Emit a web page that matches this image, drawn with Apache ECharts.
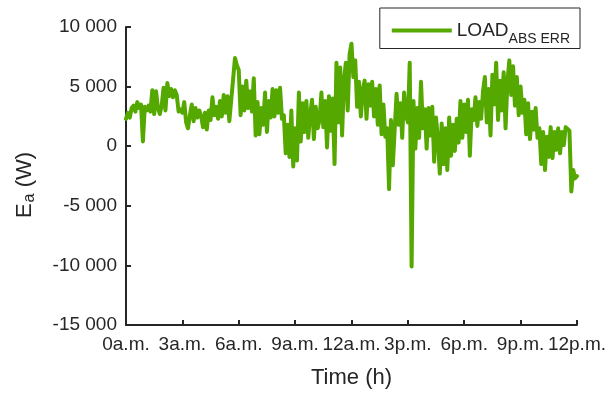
<!DOCTYPE html>
<html>
<head>
<meta charset="utf-8">
<script src="https://cdn.jsdelivr.net/npm/echarts@6/dist/echarts.min.js"></script>
<style>
  html, body { margin: 0; padding: 0; background: #fff; }
  #main { width: 609px; height: 395px; }
</style>
</head>
<body>
<div id="main"></div>
<script>
// hour tick labels (every 3 h)
var hourLabels = ["0a.m.", "3a.m.", "6a.m.", "9a.m.", "12a.m.", "3p.m.", "6p.m.", "9p.m.", "12p.m."];
var seriesName = "LOAD_ABS_ERR";
var stepHours = 0.1; // sampling step of the readings below

// absolute error readings (W), one row per hour, 10 samples each
var errRows = [
  [2300, 2800, 2400, 3200, 3400, 2900, 3700, 3200, 3500, 400],
  [3300, 3000, 3400, 2900, 4700, 2700, 4600, 3200, 2700, 3400],
  [4900, 3000, 5300, 4200, 4800, 4100, 4700, 4300, 2900, 3100],
  [2800, 3700, 2000, 1500, 2600, 3500, 2100, 3200, 2400, 3000],
  [2500, 1600, 2800, 1400, 3000, 2200, 4100, 2600, 3300, 2300],
  [3800, 2500, 4300, 2800, 4200, 2100, 3900, 5600, 7400, 6800],
  [6400, 2600, 5000, 3000, 5500, 3200, 4600, 2900, 5700, 900],
  [3700, 1000, 3200, 1800, 4500, 1200, 3800, 2400, 4800, 2500],
  [4700, 2800, 4900, 2300, 2600, -600, 1800, -900, 3000, -1700],
  [1500, -1200, 4500, 400, 3600, 1200, 3800, 700, 2600, 3900],
  [600, 3300, 1500, 2200, 4500, 1600, 3800, -100, 4200, 1300],
  [4000, -1500, 7000, 2000, 6600, 900, 5500, 7000, 3000, 7700],
  [8600, 5800, 7200, 3300, 5400, 2500, 4700, 5500, 2300, 5200],
  [3400, 5400, 2500, 4800, 1800, 5100, 1000, 3500, 800, 1500],
  [-3600, 2200, -1600, 1400, 4400, 1800, 3600, 700, 4500, 2600],
  [2000, 7000, -10100, 3800, -200, 3200, 700, 5400, 1500, 3100],
  [-200, 3200, 900, 3300, -1300, 2400, 600, -2300, 1900, -1500],
  [1500, -2000, 2400, -800, 1800, -400, 2300, 300, 3800, 700],
  [3500, 1200, 3900, -800, 3100, 2200, 4100, 1700, 3700, 2300],
  [4600, 5800, 2000, 4800, 900, 6000, 3500, 7000, 2200, 5500],
  [3000, 6200, 1500, 5400, 7200, 4300, 6700, 3400, 5800, 2600],
  [5000, 2800, 3900, 1000, 3600, 600, 2900, 1400, 3200, 700],
  [1500, -1500, 1200, -2000, 800, -900, 1600, -1000, 1200, -300],
  [1500, -600, 1200, 100, 1600, 1500, 1300, -3800, -2000, -2700],
  [-2500]
];

var errValues = [].concat.apply([], errRows);
var seriesData = errValues.map(function (v, i) { return [Math.round(i * stepHours * 10) / 10, v]; });

function fmtThousands(v) {
  var s = String(Math.abs(v)).replace(/\B(?=(\d{3})+(?!\d))/g, " ");
  return (v < 0 ? "-" : "") + s;
}

var txt = "#262626";
var font = "Liberation Sans";
var green = "#55a800";

var option = {
  animation: false,
  backgroundColor: "#fff",
  grid: { left: 126, right: 30, top: 27, bottom: 70 },
  legend: {
    data: [seriesName],
    right: 29,
    top: 8,
    itemWidth: 60,
    itemHeight: 4,
    icon: "rect",
    padding: [13, 10, 0, 12],
    borderColor: txt,
    borderWidth: 1,
    formatter: function () { return "{a|LOAD}{b|ABS ERR}"; },
    textStyle: {
      color: txt,
      fontFamily: font,
      rich: {
        a: { fontSize: 19, fontFamily: font, color: txt, lineHeight: 36 },
        b: { fontSize: 14, fontFamily: font, color: txt, lineHeight: 14, verticalAlign: "bottom", padding: [0, 0, 2, 0] }
      }
    }
  },
  xAxis: {
    type: "value",
    min: 0,
    max: 24,
    interval: 3,
    name: "Time (h)",
    nameLocation: "middle",
    nameGap: 42,
    nameTextStyle: { color: txt, fontSize: 22, fontFamily: font },
    axisLine: { show: true, onZero: false, lineStyle: { color: txt, width: 2 } },
    axisTick: { show: true, inside: true, length: 5, lineStyle: { color: txt, width: 2 } },
    axisLabel: {
      color: txt, fontSize: 19, fontFamily: font, margin: 10,
      formatter: function (v) { return hourLabels[Math.round(v / 3)]; }
    },
    splitLine: { show: false }
  },
  yAxis: {
    type: "value",
    min: -15000,
    max: 10000,
    interval: 5000,
    name: "{e|E}{s|a}{e| (W)}",
    nameLocation: "middle",
    nameGap: 88,
    nameRotate: 90,
    nameTextStyle: {
      color: txt, fontFamily: font,
      padding: [0, 18, 0, 0],
      rich: {
        e: { fontSize: 22, fontFamily: font, color: txt, lineHeight: 24, verticalAlign: "top" },
        s: { fontSize: 16, fontFamily: font, color: txt, lineHeight: 24, verticalAlign: "bottom", padding: [10, 0, 0, 1] }
      }
    },
    axisLine: { show: true, lineStyle: { color: txt, width: 2 } },
    axisTick: { show: true, inside: true, length: 5, lineStyle: { color: txt, width: 2 } },
    axisLabel: {
      color: txt, fontSize: 19, fontFamily: font, margin: 9,
      formatter: fmtThousands
    },
    splitLine: { show: false }
  },
  series: [{
    name: seriesName,
    type: "line",
    data: seriesData,
    showSymbol: false,
    symbol: "none",
    color: green,
    lineStyle: { color: green, width: 4, join: "round", cap: "round" }
  }]
};

echarts.init(document.getElementById("main")).setOption(option);
</script>
</body>
</html>
